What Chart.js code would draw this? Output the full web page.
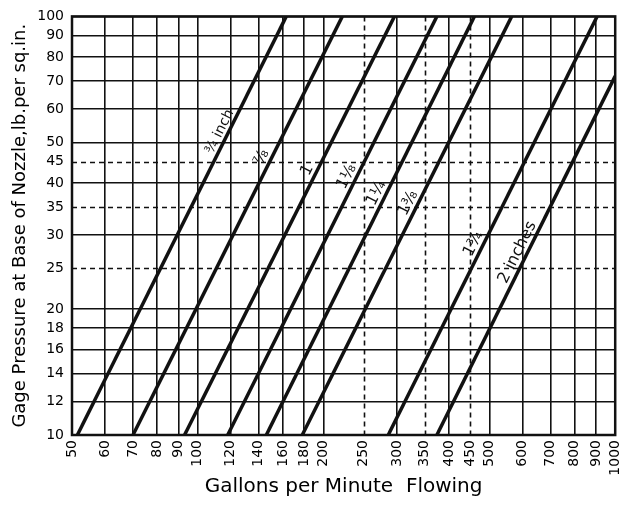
<!DOCTYPE html>
<html>
<head>
<meta charset="utf-8">
<script src="https://cdn.jsdelivr.net/npm/chart.js@4"></script>
<style>
  html, body { margin:0; padding:0; background:#fff; }
  #chart { display:block; }
</style>
</head>
<body>
<canvas id="chart" width="637" height="509"></canvas>
<script>
/* ---------- Data ---------- */
const nozzleSizes = ['¾ inch', '⅞', '1', '1⅛', '1¼', '1⅜', '1¾', '2 inches'];
const gpmAt10psi  = [51.5, 70, 93, 118, 146, 178, 286, 374];
const gpmAtEnd    = [163, 222, 296, 374, 460, 565, 905, 1000];
const psiAtEnd    = [100, 100, 100, 100, 100, 100, 100, 72];

const gpmTicks = [50,60,70,80,90,100,120,140,160,180,200,250,300,350,400,450,500,600,700,800,900,1000];
const psiTicks = [10,12,14,16,18,20,25,30,35,40,45,50,60,70,80,90,100];
const dashedGpm = [250, 350, 450];
const dashedPsi = [25, 35, 45];

// pressure at which each size label sits along its line
const labelPsi = [52, 45, 42, 40.5, 37, 35, 28, 26.7];

Chart.defaults.font.family = "'DejaVu Sans', sans-serif";
Chart.defaults.color = '#000';

const datasets = nozzleSizes.map((name, i) => ({
  label: name,
  data: [{x: gpmAt10psi[i], y: 10}, {x: gpmAtEnd[i], y: psiAtEnd[i]}],
  borderColor: '#111',
  borderWidth: 3.5,
  pointRadius: 0,
  tension: 0,
  fill: false
}));

// dashed gridlines + heavy frame + rotated size labels
const paperPlugin = {
  id: 'paper',
  beforeDatasetsDraw(chart){
    const {ctx, chartArea:a, scales:{x, y}} = chart;
    ctx.save();
    ctx.strokeStyle = '#111';
    ctx.lineWidth = 1.6;
    ctx.setLineDash([5, 4]);
    dashedGpm.forEach(v => {
      const px = Math.round(x.getPixelForValue(v)) + 0.5;
      ctx.beginPath(); ctx.moveTo(px, a.top); ctx.lineTo(px, a.bottom); ctx.stroke();
    });
    dashedPsi.forEach(v => {
      const py = Math.round(y.getPixelForValue(v)) + 0.5;
      ctx.beginPath(); ctx.moveTo(a.left, py); ctx.lineTo(a.right, py); ctx.stroke();
    });
    ctx.restore();
  },
  afterDatasetsDraw(chart){
    const {ctx, chartArea:a, scales:{x, y}} = chart;
    ctx.save();
    ctx.strokeStyle = '#111';
    ctx.lineWidth = 2.5;
    ctx.strokeRect(a.left, a.top, a.right - a.left, a.bottom - a.top);

    ctx.fillStyle = '#111';
    nozzleSizes.forEach((name, i) => {
      const lx0 = Math.log10(gpmAt10psi[i]), lx1 = Math.log10(gpmAtEnd[i]);
      const ly0 = 1, ly1 = Math.log10(psiAtEnd[i]);
      const t = (Math.log10(labelPsi[i]) - ly0) / (ly1 - ly0);
      const gx = Math.pow(10, lx0 + t * (lx1 - lx0));
      const px = x.getPixelForValue(gx), py = y.getPixelForValue(labelPsi[i]);
      const ang = Math.atan2(
        y.getPixelForValue(psiAtEnd[i]) - y.getPixelForValue(10),
        x.getPixelForValue(gpmAtEnd[i]) - x.getPixelForValue(gpmAt10psi[i]));
      ctx.save();
      ctx.translate(px, py);
      ctx.rotate(ang);
      const size = i === nozzleSizes.length - 1 ? 16 : (i === 0 ? 14 : 16);
      ctx.font = size + "px 'DejaVu Sans', sans-serif";
      ctx.textAlign = 'center';
      ctx.textBaseline = 'bottom';
      ctx.fillText(name, 0, -1);
      ctx.restore();
    });
    ctx.restore();
  }
};

new Chart(document.getElementById('chart'), {
  type: 'line',
  data: { datasets },
  options: {
    responsive: false,
    animation: false,
    layout: { padding: { top: 11, right: 14, left: 0, bottom: 0 } },
    plugins: { legend: { display:false }, tooltip: { enabled:false } },
    scales: {
      x: {
        type: 'logarithmic',
        min: 50, max: 1000,
        afterBuildTicks: s => { s.ticks = gpmTicks.map(v => ({value: v})); },
        afterFit: s => { s.height = 74; },
        ticks: {
          autoSkip: false, minRotation: 90, maxRotation: 90, padding: 5,
          font: { size: 14 },
          callback: v => String(v)
        },
        grid: {
          drawTicks: false,
          lineWidth: 1.6,
          color: c => dashedGpm.includes(c.tick && c.tick.value) ? 'rgba(0,0,0,0)' : '#111'
        },
        border: { display: false },
        title: {
          display: true,
          text: 'Gallons per Minute  Flowing',
          font: { size: 20 },
          padding: { top: 0, bottom: 10 }
        }
      },
      y: {
        type: 'logarithmic',
        min: 10, max: 100,
        afterBuildTicks: s => { s.ticks = psiTicks.map(v => ({value: v})); },
        afterFit: s => { s.width = 72; },
        ticks: {
          autoSkip: false, padding: 8,
          font: { size: 14 },
          callback: v => String(v)
        },
        grid: {
          drawTicks: false,
          lineWidth: 1.6,
          color: c => dashedPsi.includes(c.tick && c.tick.value) ? 'rgba(0,0,0,0)' : '#111'
        },
        border: { display: false },
        title: {
          display: true,
          text: 'Gage Pressure at Base of Nozzle,lb.per sq.in.',
          font: { size: 18 },
          padding: { top: 10, bottom: 0 }
        }
      }
    }
  },
  plugins: [paperPlugin]
});
</script>
</body>
</html>
